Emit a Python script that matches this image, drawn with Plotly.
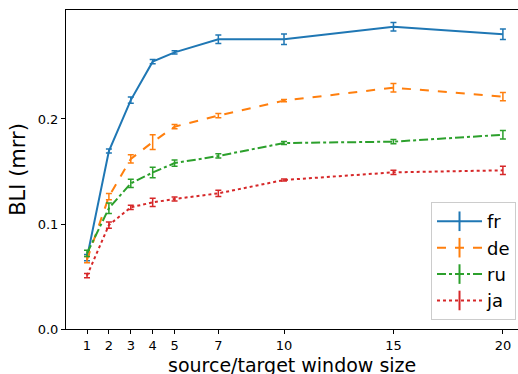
import plotly.graph_objects as go

window = [1, 2, 3, 4, 5, 7, 10, 15, 20]

fr = [0.068, 0.1695, 0.218, 0.2546, 0.2635, 0.276, 0.2759, 0.2879, 0.2807]
fr_err = [0.003, 0.002, 0.003, 0.002, 0.0015, 0.004, 0.005, 0.004, 0.005]
de = [0.066, 0.126, 0.162, 0.178, 0.1927, 0.2032, 0.2175, 0.2298, 0.2213]
de_err = [0.003, 0.003, 0.004, 0.007, 0.002, 0.002, 0.001, 0.004, 0.004]
ru = [0.072, 0.115, 0.1387, 0.149, 0.158, 0.1648, 0.1771, 0.1784, 0.185]
ru_err = [0.003, 0.005, 0.004, 0.005, 0.003, 0.002, 0.0015, 0.002, 0.004]
ja = [0.0508, 0.099, 0.1159, 0.1206, 0.1238, 0.1292, 0.1419, 0.1492, 0.1511]
ja_err = [0.002, 0.003, 0.002, 0.004, 0.002, 0.003, 0.001, 0.002, 0.004]

series = [
    ("fr", fr, fr_err, "#1f77b4", "solid"),
    ("de", de, de_err, "#ff7f0e", "dash"),
    ("ru", ru, ru_err, "#2ca02c", "dashdot"),
    ("ja", ja, ja_err, "#d62728", "dot"),
]

fig = go.Figure()
for name, vals, errs, color, dash in series:
    fig.add_trace(go.Scatter(
        x=window, y=vals, name=name, mode="lines", showlegend=False,
        legendgroup=name,
        line=dict(color=color, width=2, dash=dash),
        error_y=dict(type="data", array=errs, visible=True,
                     color=color, thickness=1.5, width=3),
    ))
# legend entries (line with error-bar glyph)
for name, vals, errs, color, dash in series:
    fig.add_trace(go.Scatter(
        x=[None], y=[None], name=name, mode="lines+markers",
        legendgroup=name,
        line=dict(color=color, width=2, dash=dash),
        marker=dict(symbol="line-ns-open", size=14, color=color,
                    line=dict(color=color, width=2)),
    ))

font = "DejaVu Sans, Liberation Sans, sans-serif"
fig.update_layout(
    width=518, height=374,
    margin=dict(l=66, r=0, t=10, b=45),
    paper_bgcolor="white", plot_bgcolor="white",
    font=dict(family=font, color="black", size=13),
    showlegend=True,
    legend=dict(x=0.9956, y=0.028, xanchor="right", yanchor="bottom",
                bgcolor="rgba(255,255,255,0.8)", bordercolor="#cccccc",
                borderwidth=1, font=dict(size=18, family=font),
                tracegroupgap=0, itemwidth=45, itemsizing="trace"),
    annotations=[dict(
        text="source/target window size", xref="paper", yref="paper",
        x=0.5, y=-0.073, xanchor="center", yanchor="top", showarrow=False,
        font=dict(size=19, family=font, color="black"),
    )],
)
fig.update_xaxes(
    range=[0.04, 20.69], tickvals=window, ticktext=[str(w) for w in window],
    showgrid=False, zeroline=False, showline=True, linecolor="black",
    linewidth=1, mirror=True, ticks="outside", ticklen=4, tickcolor="black",
    tickfont=dict(size=13), automargin=False,
)
fig.update_yaxes(
    range=[0, 0.3038], tickvals=[0.0, 0.1, 0.2], ticktext=["0.0", "0.1", "0.2"],
    showgrid=False, zeroline=False, showline=True, linecolor="black",
    linewidth=1, ticks="outside", ticklen=4, tickcolor="black",
    tickfont=dict(size=13), automargin=False,
    title=dict(text="BLI (mrr)", font=dict(size=21), standoff=6),
)

fig.write_html("out.html")
